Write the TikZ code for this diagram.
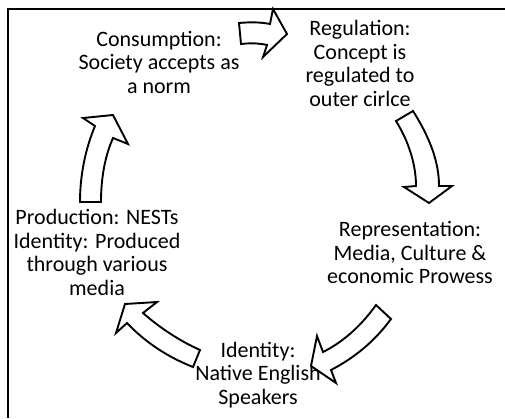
\documentclass[tikz,border=0pt]{standalone}
\usepackage{fontspec}
\setmainfont{Carlito}
\tikzset{
  lbl/.style={align=center, inner sep=0pt, font=\fontsize{22}{23.5}\selectfont},
  blockarrow/.style={draw=black, fill=white, line width=1.9pt, line join=miter},
  frameline/.style={draw=black, line width=1.6pt}
}
\begin{document}
\begin{tikzpicture}[x=1pt,y=-1pt]
\useasboundingbox (0,0) rectangle (505,418);
% frame
\coordinate (fbl) at (8,418);
\coordinate (ftl) at (8,9);
\coordinate (ftr) at (505,9);
\draw[frameline] (fbl) -- (ftl) -- (ftr);

% texts
\node[lbl] (cons) at (159,62) {Consumption:\\Society accepts as\\a norm};
\node[lbl] (reg) at (360,63.5) {Regulation:\\Concept is\\regulated to\\outer cirlce};
\node[lbl] (rep) at (410,252.5) {Representation:\\Media, Culture \&\\economic Prowess};
\node[lbl] (ident) at (258,375) {Identity:\\Native English\\Speakers};
\node[lbl] (prod) at (97,252.5) {Production: NESTs\\Identity: Produced\\through various\\media};

% arrow A (top, to the right)
\draw[blockarrow] (239,23) .. controls (250,22) and (260,22) .. (270,24)
  -- (273,9) -- (287,34) -- (263,57) -- (267,45)
  .. controls (258,43) and (250,43) .. (241,44) -- cycle;

% arrow B (right, downwards)
\draw[blockarrow] (413,111) .. controls (430,138) and (439,162) .. (439,186)
  -- (452,186) -- (429,203) -- (404,187) -- (416,186)
  .. controls (416,165) and (409,142) .. (396,121) -- cycle;

% arrow C (lower right, down-left)
\draw[blockarrow] (391,319) .. controls (374,342) and (354,358) .. (331,370)
  -- (336,383) -- (311,366) -- (317,336) -- (323,352)
  .. controls (343,342) and (361,326) .. (376,305) -- cycle;

% arrow D (lower left, up-left)
\draw[blockarrow] (193,367) .. controls (168,357) and (146,343) .. (127,323)
  -- (116,333) -- (125,304) -- (157,302) -- (143,313)
  .. controls (160,328) and (180,341) .. (200,350) -- cycle;

% arrow E (left, upwards)
\draw[blockarrow] (80,202) .. controls (80,176) and (85,150) .. (95,126)
  -- (83,118) -- (113,115) -- (128,144) -- (113,138)
  .. controls (105,156) and (101,178) .. (101,202) -- cycle;
\end{tikzpicture}
\end{document}
